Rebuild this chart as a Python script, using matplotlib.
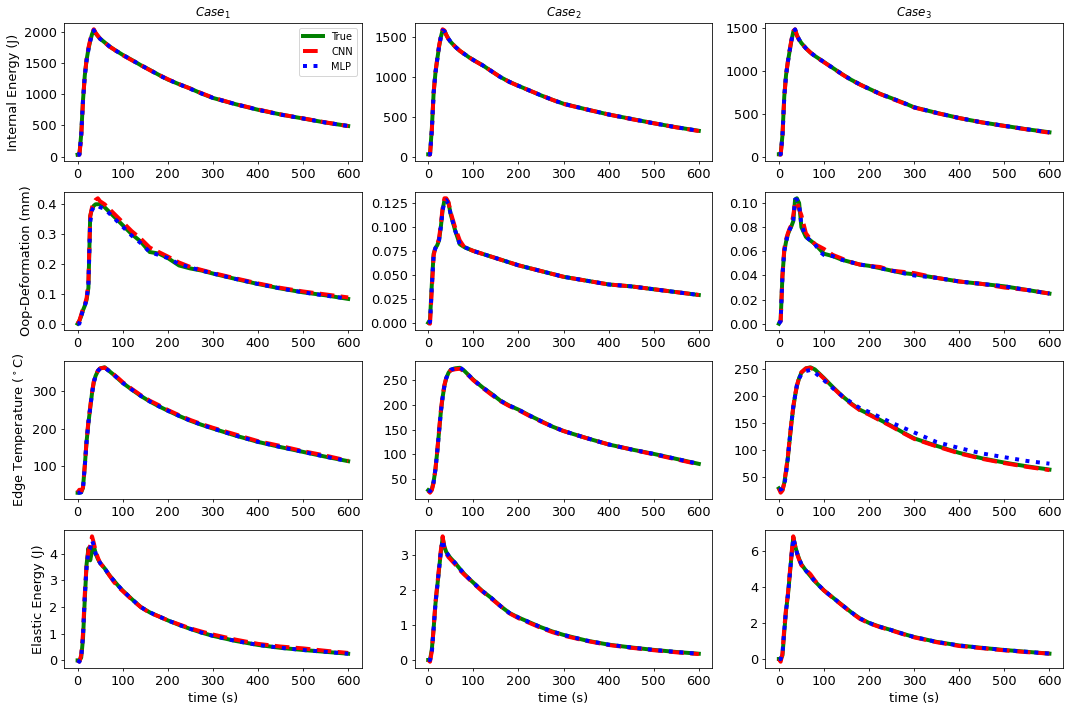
import matplotlib
matplotlib.use("Agg")
import matplotlib.pyplot as plt
from matplotlib.ticker import MultipleLocator

# time axis (s)
t = [0, 4, 8, 12, 16, 20, 24, 28, 32, 36, 40, 45, 50, 60, 70, 80, 90, 100,
     120, 140, 160, 180, 200, 225, 250, 275, 300, 350, 400, 450, 500, 550, 600]

# Internal energy (J)
ie1_true = [30, 35, 350, 900, 1300, 1550, 1720, 1850, 1960, 2030, 1975, 1930, 1890, 1830, 1770, 1720, 1675, 1630,
            1550, 1465, 1390, 1310, 1235, 1160, 1090, 1010, 940, 840, 750, 675, 610, 545, 490]
ie1_cnn = [30, 30, 300, 880, 1300, 1560, 1740, 1870, 1980, 2040, 1985, 1935, 1890, 1830, 1765, 1720, 1670, 1625,
           1545, 1465, 1385, 1310, 1240, 1160, 1090, 1015, 945, 840, 755, 675, 612, 548, 488]
ie1_mlp = [30, 30, 330, 900, 1290, 1540, 1710, 1850, 1960, 2025, 1970, 1930, 1885, 1830, 1770, 1715, 1675, 1630,
           1550, 1465, 1390, 1305, 1235, 1160, 1085, 1010, 940, 840, 750, 672, 610, 545, 490]

ie2_true = [30, 30, 350, 800, 1050, 1220, 1380, 1500, 1590, 1580, 1530, 1480, 1440, 1380, 1330, 1290, 1250, 1215,
            1150, 1075, 1000, 940, 890, 830, 770, 715, 665, 595, 530, 475, 420, 370, 325]
ie2_cnn = [30, 25, 320, 800, 1060, 1230, 1390, 1510, 1600, 1585, 1530, 1475, 1440, 1380, 1330, 1288, 1250, 1212,
           1148, 1075, 1000, 938, 888, 830, 772, 715, 662, 595, 530, 472, 420, 368, 322]
ie2_mlp = [30, 30, 330, 800, 1050, 1220, 1380, 1500, 1585, 1575, 1525, 1480, 1440, 1380, 1330, 1290, 1250, 1215,
           1150, 1075, 1000, 940, 890, 830, 770, 715, 665, 595, 530, 475, 420, 370, 325]

ie3_true = [30, 30, 250, 700, 950, 1100, 1230, 1350, 1450, 1475, 1410, 1360, 1320, 1260, 1210, 1170, 1135, 1100,
            1030, 960, 895, 840, 790, 730, 680, 630, 575, 510, 450, 400, 360, 320, 285]
ie3_cnn = [30, 25, 230, 690, 950, 1110, 1240, 1360, 1460, 1480, 1410, 1355, 1318, 1258, 1210, 1168, 1132, 1098,
           1028, 958, 892, 838, 788, 728, 675, 625, 572, 508, 450, 400, 358, 318, 280]
ie3_mlp = [30, 30, 240, 700, 950, 1100, 1230, 1350, 1450, 1478, 1410, 1360, 1320, 1260, 1210, 1170, 1135, 1100,
           1030, 960, 895, 840, 790, 730, 680, 630, 575, 510, 450, 400, 360, 320, 285]

# Out-of-plane deformation (mm)
oop1_true = [0.0, 0.01, 0.025, 0.045, 0.06, 0.08, 0.12, 0.36, 0.385, 0.395, 0.40, 0.40, 0.40, 0.39, 0.375, 0.36, 0.345, 0.33,
             0.30, 0.275, 0.24, 0.235, 0.22, 0.195, 0.185, 0.178, 0.168, 0.15, 0.133, 0.118, 0.105, 0.095, 0.083]
oop1_cnn = [0.0, 0.01, 0.03, 0.05, 0.065, 0.085, 0.14, 0.36, 0.39, 0.405, 0.415, 0.42, 0.41, 0.40, 0.385, 0.37, 0.355, 0.34,
            0.31, 0.285, 0.255, 0.24, 0.225, 0.205, 0.19, 0.18, 0.17, 0.152, 0.135, 0.12, 0.108, 0.098, 0.088]
oop1_mlp = [0.0, 0.0, 0.025, 0.045, 0.06, 0.08, 0.13, 0.34, 0.38, 0.39, 0.395, 0.395, 0.39, 0.385, 0.37, 0.355, 0.34, 0.325,
            0.295, 0.27, 0.24, 0.23, 0.22, 0.2, 0.188, 0.178, 0.168, 0.15, 0.133, 0.118, 0.105, 0.094, 0.084]

oop2_true = [0.0, 0.003, 0.04, 0.072, 0.078, 0.081, 0.086, 0.1, 0.118, 0.128, 0.129, 0.125, 0.113, 0.096, 0.082, 0.079, 0.077, 0.075,
             0.072, 0.069, 0.066, 0.063, 0.06, 0.057, 0.054, 0.051, 0.048, 0.044, 0.04, 0.038, 0.035, 0.032, 0.029]
oop2_cnn = [0.0, -0.001, 0.035, 0.07, 0.079, 0.082, 0.088, 0.103, 0.12, 0.13, 0.13, 0.126, 0.115, 0.099, 0.086, 0.079, 0.077, 0.075,
            0.072, 0.069, 0.066, 0.063, 0.06, 0.057, 0.054, 0.051, 0.048, 0.044, 0.04, 0.038, 0.035, 0.032, 0.029]
oop2_mlp = [0.0, 0.001, 0.038, 0.071, 0.078, 0.081, 0.086, 0.1, 0.117, 0.127, 0.128, 0.124, 0.113, 0.096, 0.082, 0.079, 0.077, 0.075,
            0.072, 0.069, 0.066, 0.063, 0.06, 0.057, 0.054, 0.051, 0.048, 0.044, 0.04, 0.038, 0.035, 0.032, 0.029]

oop3_true = [0.0, 0.003, 0.04, 0.06, 0.068, 0.074, 0.078, 0.081, 0.085, 0.103, 0.104, 0.1, 0.08, 0.072, 0.069, 0.066, 0.062, 0.058,
             0.056, 0.053, 0.051, 0.049, 0.048, 0.046, 0.044, 0.042, 0.041, 0.038, 0.035, 0.033, 0.031, 0.028, 0.025]
oop3_cnn = [0.001, 0.002, 0.04, 0.062, 0.07, 0.075, 0.079, 0.082, 0.09, 0.1, 0.101, 0.095, 0.09, 0.075, 0.07, 0.066, 0.064, 0.062,
            0.057, 0.054, 0.051, 0.049, 0.048, 0.047, 0.044, 0.043, 0.042, 0.038, 0.035, 0.033, 0.03, 0.028, 0.025]
oop3_mlp = [0.0, 0.002, 0.04, 0.06, 0.068, 0.074, 0.078, 0.081, 0.086, 0.103, 0.103, 0.098, 0.082, 0.072, 0.069, 0.066, 0.06, 0.057,
            0.056, 0.053, 0.051, 0.049, 0.048, 0.046, 0.044, 0.042, 0.04, 0.038, 0.035, 0.033, 0.031, 0.028, 0.025]

# Edge temperature (deg C)
tmp1_true = [27, 27, 28, 40, 100, 165, 215, 255, 295, 325, 342, 355, 362, 365, 355, 345, 334, 323,
             305, 288, 273, 260, 248, 234, 221, 210, 200, 181, 164, 150, 137, 124, 112]
tmp1_cnn = [28, 35, 30, 42, 100, 168, 220, 258, 298, 327, 343, 356, 362, 364, 356, 346, 336, 325,
            307, 290, 275, 263, 250, 236, 223, 212, 202, 184, 166, 153, 139, 127, 113]
tmp1_mlp = [27, 27, 28, 40, 98, 165, 215, 255, 294, 324, 342, 355, 362, 364, 355, 345, 334, 323,
            305, 288, 273, 260, 248, 234, 221, 210, 200, 181, 164, 150, 137, 124, 112]

tmp2_true = [28, 25, 30, 45, 70, 105, 145, 185, 215, 238, 253, 264, 270, 273, 274, 268, 259, 250,
             235, 222, 208, 198, 190, 178, 167, 156, 147, 133, 120, 110, 101, 91, 81]
tmp2_cnn = [27, 23, 28, 43, 70, 107, 148, 188, 218, 240, 254, 264, 269, 271, 272, 267, 258, 249,
            234, 220, 207, 197, 189, 177, 166, 156, 147, 133, 120, 110, 100, 90, 80]
tmp2_mlp = [28, 26, 30, 45, 70, 105, 145, 185, 215, 238, 253, 264, 270, 273, 275, 268, 259, 250,
            235, 222, 208, 198, 190, 178, 167, 156, 147, 133, 120, 110, 101, 91, 81]

tmp3_true = [28, 23, 25, 38, 60, 85, 118, 150, 178, 200, 218, 233, 243, 251, 253, 249, 241, 233,
             216, 200, 186, 174, 166, 155, 144, 132, 121, 107, 94, 84, 76, 69, 63]
tmp3_cnn = [28, 20, 24, 38, 62, 88, 120, 152, 180, 202, 219, 234, 244, 251, 252, 248, 240, 232,
            215, 199, 185, 173, 165, 154, 143, 131, 120, 106, 93, 83, 75, 68, 62]
tmp3_mlp = [26, 26, 28, 33, 55, 85, 120, 150, 180, 200, 220, 232, 240, 246, 248, 243, 236, 229,
            214, 200, 188, 177, 170, 160, 150, 141, 132, 114, 103, 93, 86, 79, 74]

# Elastic energy (J)
el1_true = [0.0, 0.0, 0.1, 0.8, 2.3, 3.6, 4.2, 3.75, 4.1, 4.3, 4.0, 3.8, 3.65, 3.45, 3.2, 3.0, 2.8, 2.62,
            2.3, 2.0, 1.8, 1.65, 1.5, 1.33, 1.18, 1.04, 0.92, 0.73, 0.58, 0.47, 0.39, 0.32, 0.25]
el1_cnn = [0.0, -0.05, 0.2, 1.0, 2.5, 3.6, 4.1, 4.3, 4.65, 4.4, 4.1, 3.85, 3.65, 3.45, 3.2, 2.95, 2.75, 2.6,
           2.28, 2.0, 1.78, 1.65, 1.5, 1.35, 1.2, 1.08, 0.97, 0.78, 0.62, 0.52, 0.45, 0.36, 0.28]
el1_mlp = [0.0, -0.05, 0.1, 0.9, 2.4, 3.5, 4.1, 4.2, 4.5, 4.3, 4.0, 3.8, 3.65, 3.45, 3.2, 3.0, 2.8, 2.62,
           2.3, 2.0, 1.8, 1.65, 1.5, 1.33, 1.18, 1.04, 0.92, 0.73, 0.58, 0.47, 0.39, 0.32, 0.25]

el2_true = [0.0, 0.0, 0.3, 0.9, 1.6, 2.1, 2.6, 3.1, 3.5, 3.25, 3.1, 3.0, 2.92, 2.78, 2.62, 2.47, 2.34, 2.22,
            1.98, 1.78, 1.55, 1.35, 1.22, 1.08, 0.94, 0.82, 0.72, 0.56, 0.44, 0.36, 0.29, 0.23, 0.18]
el2_cnn = [0.0, -0.05, 0.25, 0.9, 1.65, 2.15, 2.65, 3.15, 3.55, 3.2, 3.05, 2.95, 2.88, 2.74, 2.58, 2.45, 2.33, 2.2,
           1.97, 1.76, 1.55, 1.34, 1.2, 1.06, 0.92, 0.8, 0.7, 0.55, 0.43, 0.35, 0.28, 0.22, 0.17]
el2_mlp = [0.0, 0.0, 0.2, 0.9, 1.6, 2.1, 2.6, 3.1, 3.45, 3.2, 3.1, 3.0, 2.92, 2.78, 2.62, 2.47, 2.34, 2.22,
           1.98, 1.78, 1.55, 1.35, 1.22, 1.08, 0.94, 0.82, 0.72, 0.56, 0.44, 0.36, 0.29, 0.23, 0.18]

el3_true = [0.0, 0.0, 0.2, 1.5, 2.7, 3.5, 4.6, 5.7, 6.75, 6.3, 5.9, 5.55, 5.25, 4.9, 4.6, 4.3, 4.05, 3.8,
            3.4, 3.0, 2.6, 2.25, 2.0, 1.78, 1.6, 1.4, 1.22, 0.95, 0.75, 0.62, 0.5, 0.4, 0.3]
el3_cnn = [0.0, -0.15, 0.3, 1.7, 2.8, 3.6, 4.7, 5.8, 6.8, 6.25, 5.85, 5.5, 5.2, 4.95, 4.7, 4.35, 4.05, 3.8,
           3.38, 2.98, 2.58, 2.22, 1.98, 1.76, 1.58, 1.38, 1.2, 0.93, 0.72, 0.6, 0.48, 0.38, 0.3]
el3_mlp = [0.0, 0.0, 0.3, 1.6, 2.7, 3.5, 4.6, 5.7, 6.7, 6.3, 5.9, 5.55, 5.25, 4.9, 4.6, 4.3, 4.05, 3.8,
           3.4, 3.0, 2.6, 2.25, 2.0, 1.78, 1.6, 1.4, 1.22, 0.95, 0.75, 0.62, 0.5, 0.4, 0.3]

ylabels = ["Internal Energy (J)", "Oop-Deformation (mm)",
           "Edge Temperature ($^\\circ$C)", "Elastic Energy (J)"]
titles = ["$Case_1$", "$Case_2$", "$Case_3$"]

panels = [
    [(ie1_true, ie1_cnn, ie1_mlp), (ie2_true, ie2_cnn, ie2_mlp), (ie3_true, ie3_cnn, ie3_mlp)],
    [(oop1_true, oop1_cnn, oop1_mlp), (oop2_true, oop2_cnn, oop2_mlp), (oop3_true, oop3_cnn, oop3_mlp)],
    [(tmp1_true, tmp1_cnn, tmp1_mlp), (tmp2_true, tmp2_cnn, tmp2_mlp), (tmp3_true, tmp3_cnn, tmp3_mlp)],
    [(el1_true, el1_cnn, el1_mlp), (el2_true, el2_cnn, el2_mlp), (el3_true, el3_cnn, el3_mlp)],
]

# y tick step per panel (the original had denser ticks than the default)
ysteps = [
    [500, 500, 500],
    [0.1, 0.025, 0.02],
    [100, 50, 50],
    [1, 1, 2],
]

fig, axes = plt.subplots(4, 3, figsize=(15, 9.972), dpi=71.4)
fig.subplots_adjust(left=0.0598, right=0.9925, top=0.9677, bottom=0.0618,
                    wspace=0.178, hspace=0.225)

for i in range(4):
    for j in range(3):
        ax = axes[i][j]
        true, cnn, mlp = panels[i][j]
        ax.plot(t, true, "-", color="green", linewidth=4, label="True")
        ax.plot(t, cnn, "--", color="red", linewidth=4, label="CNN")
        ax.plot(t, mlp, ":", color="blue", linewidth=4, label="MLP")
        ax.yaxis.set_major_locator(MultipleLocator(ysteps[i][j]))
        ax.tick_params(labelsize=13)
        if j == 0:
            ax.set_ylabel(ylabels[i], fontsize=13)
        if i == 0:
            ax.set_title(titles[j], fontsize=12)
        if i == 3:
            ax.set_xlabel("time (s)", fontsize=13)

axes[0][0].legend(loc="upper right", fontsize=10)

plt.savefig("out.png", dpi=71.4)
